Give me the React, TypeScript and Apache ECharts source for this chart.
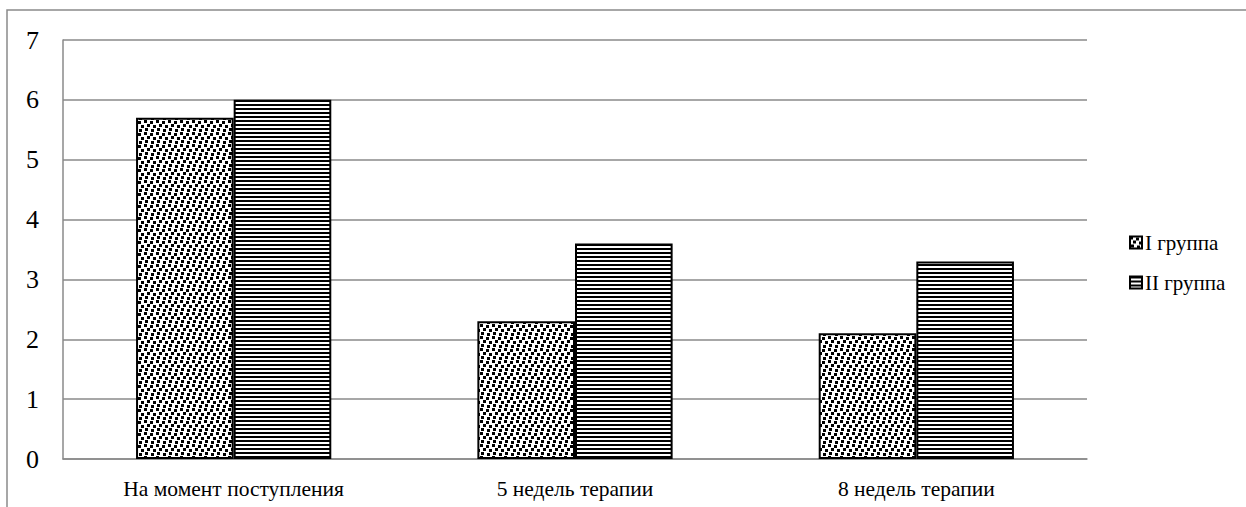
import React, { useEffect, useRef } from "react";
import * as echarts from "echarts";

const categories = ["На момент поступления", "5 недель терапии", "8 недель терапии"];
const seriesNames = ["I группа", "II группа"];
const group1 = [5.7, 2.3, 2.1];
const group2 = [6.0, 3.6, 3.3];
const yTicks = { min: 0, max: 7, interval: 1 };

function dotsPattern() {
  const c = document.createElement("canvas");
  c.width = 12;
  c.height = 12;
  const ctx = c.getContext("2d")!;
  ctx.fillStyle = "#fff";
  ctx.fillRect(0, 0, 12, 12);
  ctx.fillStyle = "#000";
  const sq = [
    [0, 0], [6, 1], [3, 4], [9, 5], [1, 8], [7, 9],
  ];
  sq.forEach(([x, y]) => ctx.fillRect(x, y, 3, 3));
  return { image: c.toDataURL(), repeat: "repeat", imageWidth: 12, imageHeight: 12 };
}

function stripesPattern() {
  const c = document.createElement("canvas");
  c.width = 4;
  c.height = 4;
  const ctx = c.getContext("2d")!;
  ctx.fillStyle = "#fff";
  ctx.fillRect(0, 0, 4, 4);
  ctx.fillStyle = "#000";
  ctx.fillRect(0, 0, 4, 2);
  return { image: c.toDataURL(), repeat: "repeat", imageWidth: 4, imageHeight: 4 };
}

export default function App() {
  const ref = useRef<HTMLDivElement>(null);
  useEffect(() => {
    if (!ref.current) return;
    const chart = echarts.init(ref.current, undefined, { renderer: "svg" });
    const font = "'Liberation Serif', 'DejaVu Serif', serif";
    const gray = "#8a8a8a";
    chart.setOption({
      animation: false,
      backgroundColor: "#fff",
      textStyle: { fontFamily: font, color: "#000" },
      graphic: [
        {
          type: "rect",
          shape: { x: 7, y: 10, width: 1400, height: 700 },
          style: { fill: "none", stroke: gray, lineWidth: 1.5 },
          silent: true,
        },
      ],
      grid: { left: 63, top: 40, right: 159, bottom: 48, containLabel: false },
      legend: {
        orient: "vertical",
        left: 1124,
        top: 227,
        itemWidth: 12,
        itemHeight: 12,
        itemGap: 19,
        icon: "rect",
        textStyle: { fontFamily: font, fontSize: 21, color: "#000", padding: [0, 0, 0, -2] },
        data: seriesNames,
      },
      xAxis: {
        type: "category",
        data: categories,
        axisLine: { show: true, lineStyle: { color: gray, width: 1.5 } },
        axisTick: { show: false },
        axisLabel: { fontFamily: font, fontSize: 21.5, color: "#000", margin: 19 },
      },
      yAxis: {
        type: "value",
        min: yTicks.min,
        max: yTicks.max,
        interval: yTicks.interval,
        axisLine: { show: true, lineStyle: { color: gray, width: 1.5 } },
        axisTick: { show: false },
        splitLine: { show: true, lineStyle: { color: gray, width: 1.5 } },
        axisLabel: { fontFamily: font, fontSize: 26, color: "#000", margin: 24 },
      },
      series: [
        {
          name: seriesNames[0],
          type: "bar",
          data: group1,
          barWidth: "28.6%",
          barGap: "0%",
          itemStyle: { color: dotsPattern() as any, borderColor: "#000", borderWidth: 2 },
        },
        {
          name: seriesNames[1],
          type: "bar",
          data: group2,
          barWidth: "28.6%",
          barGap: "0%",
          itemStyle: { color: stripesPattern() as any, borderColor: "#000", borderWidth: 2 },
        },
      ],
    });
    return () => chart.dispose();
  }, []);
  return (
    <div
      ref={ref}
      style={{ position: "fixed", left: 0, top: 0, width: 1246, height: 507, background: "#fff" }}
    />
  );
}
